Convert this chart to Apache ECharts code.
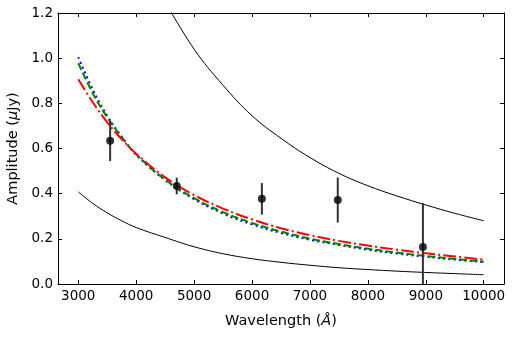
<!DOCTYPE html>
<html>
<head>
<meta charset="utf-8">
<script src="https://cdn.jsdelivr.net/npm/echarts@6/dist/echarts.min.js"></script>
<style>
  html, body { margin: 0; padding: 0; background: #fff; }
  #chart { width: 514px; height: 337px; }
</style>
</head>
<body>
<div id="chart"></div>
<script>
// tick labels
const xTicks = [3000, 4000, 5000, 6000, 7000, 8000, 9000, 10000]
const yTicks = [0, 0.2, 0.4, 0.6, 0.8, 1.0, 1.2]

// model curves
const waveGrid = [3000, 3250, 3500, 3750, 4000, 4500, 5000, 5500, 6000, 6500, 7000, 7500, 8000, 8500, 9000, 9500, 10000]
const blueModel = [1.005, 0.861, 0.745, 0.652, 0.572, 0.46, 0.376, 0.312, 0.264, 0.226, 0.196, 0.173, 0.152, 0.135, 0.121, 0.108, 0.097]
const greenModel = [0.978, 0.845, 0.738, 0.65, 0.574, 0.462, 0.38, 0.318, 0.27, 0.232, 0.201, 0.177, 0.156, 0.139, 0.124, 0.111, 0.099]
const redModel = [0.907, 0.805, 0.716, 0.641, 0.577, 0.472, 0.394, 0.334, 0.286, 0.247, 0.216, 0.191, 0.17, 0.152, 0.136, 0.122, 0.108]
const lowerModel = [0.408, 0.357, 0.315, 0.28, 0.25, 0.206, 0.165, 0.134, 0.112, 0.096, 0.083, 0.072, 0.064, 0.057, 0.051, 0.046, 0.041]

const upperWave = [4500, 5000, 5500, 6000, 6500, 7000, 7500, 8000, 8500, 9000, 9500, 10000]
const upperModel = [1.25, 1.04, 0.88, 0.745, 0.645, 0.56, 0.49, 0.435, 0.39, 0.35, 0.313, 0.28]

// photometry
const obsWave = [3550, 4700, 6170, 7480, 8950]
const obsFlux = [0.634, 0.434, 0.377, 0.372, 0.164]
const obsErr = [0.09, 0.037, 0.07, 0.1, 0.194]

const pairs = (xs, ys) => xs.map((x, i) => [x, ys[i]])

const chart = echarts.init(document.getElementById('chart'), null, { renderer: 'canvas' })

const font = 'DejaVu Sans'
const tick = { show: true, inside: true, length: 4, lineStyle: { color: '#000', width: 1 } }
const axLine = { show: true, onZero: false, lineStyle: { color: '#000', width: 1 } }
const nameRich = {
  n: { fontFamily: font, fontSize: 14.5, color: '#000' },
  i: { fontFamily: font, fontSize: 14.5, color: '#000', fontStyle: 'italic' }
}

const modelLine = (data, color, type, z) => ({
  type: 'line',
  data: data,
  showSymbol: false,
  smooth: 0.4,
  z: z,
  lineStyle: { color: color, width: 2, type: type }
})

const option = {
  animation: false,
  backgroundColor: '#fff',
  grid: { left: 58, right: 10, top: 13, bottom: 53, containLabel: false, outerBoundsMode: 'none' },
  xAxis: [
    {
      type: 'value',
      min: 2650,
      max: 10350,
      axisLine: axLine,
      axisTick: Object.assign({ customValues: xTicks }, tick),
      axisLabel: {
        customValues: xTicks,
        margin: 5,
        color: '#000',
        fontFamily: font,
        fontSize: 13.5,
        formatter: v => String(v)
      },
      splitLine: { show: false },
      name: '{n|Wavelength (}{i|Å}{n|)}',
      nameLocation: 'middle',
      nameGap: 30,
      nameTextStyle: { rich: nameRich }
    },
    {
      type: 'value',
      position: 'top',
      min: 2650,
      max: 10350,
      axisLine: axLine,
      axisTick: Object.assign({ customValues: xTicks }, tick),
      axisLabel: { show: false },
      splitLine: { show: false }
    }
  ],
  yAxis: [
    {
      type: 'value',
      min: 0,
      max: 1.2,
      axisLine: axLine,
      axisTick: Object.assign({ customValues: yTicks }, tick),
      axisLabel: {
        customValues: yTicks,
        margin: 5,
        color: '#000',
        fontFamily: font,
        fontSize: 13.5,
        formatter: v => v.toFixed(1)
      },
      splitLine: { show: false },
      name: '{n|Amplitude (}{i|μ}{n|Jy)}',
      nameLocation: 'middle',
      nameGap: 36,
      nameTextStyle: { rich: nameRich }
    },
    {
      type: 'value',
      position: 'right',
      min: 0,
      max: 1.2,
      axisLine: axLine,
      axisTick: Object.assign({ customValues: yTicks }, tick),
      axisLabel: { show: false },
      splitLine: { show: false }
    }
  ],
  series: [
    {
      type: 'line',
      data: pairs(upperWave, upperModel),
      showSymbol: false,
      smooth: 0.4,
      z: 2,
      lineStyle: { color: '#000', width: 1 }
    },
    {
      type: 'line',
      data: pairs(waveGrid, lowerModel),
      showSymbol: false,
      smooth: 0.4,
      z: 2,
      lineStyle: { color: '#000', width: 1 }
    },
    modelLine(pairs(waveGrid, blueModel), '#0000ff', [2, 3.3], 3),
    modelLine(pairs(waveGrid, greenModel), '#008000', [7.4, 3.2], 4),
    modelLine(pairs(waveGrid, redModel), '#ff0000', [12.8, 3.2, 2, 3.2], 5),
    {
      // error bars
      type: 'custom',
      z: 6,
      data: obsWave.map((w, i) => [w, obsFlux[i] - obsErr[i], obsFlux[i] + obsErr[i]]),
      renderItem: (params, api) => {
        const top = api.coord([api.value(0), api.value(2)])
        const bot = api.coord([api.value(0), api.value(1)])
        const cs = params.coordSys
        const yBot = Math.min(bot[1], cs.y + cs.height)
        return {
          type: 'line',
          shape: { x1: top[0], y1: top[1], x2: bot[0], y2: yBot },
          style: { stroke: '#333', lineWidth: 2 }
        }
      }
    },
    {
      type: 'scatter',
      z: 7,
      data: pairs(obsWave, obsFlux),
      symbol: 'circle',
      symbolSize: 8,
      itemStyle: { color: '#000' }
    }
  ]
}

chart.setOption(option)
window.addEventListener('resize', () => chart.resize())
</script>
</body>
</html>
